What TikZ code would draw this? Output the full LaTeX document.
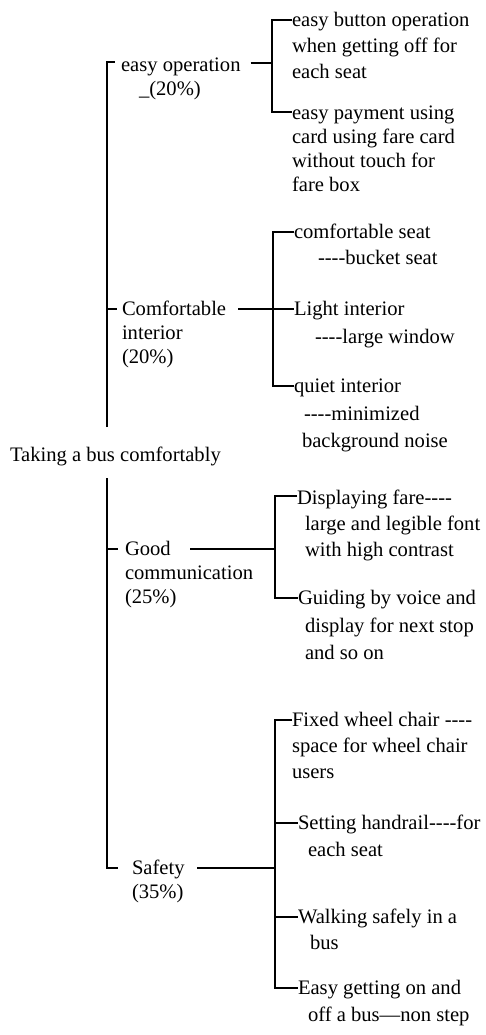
\documentclass[tikz,border=0pt]{standalone}
\usepackage{fontspec}
\setmainfont{Liberation Serif}[Ligatures=TeXOff]
\newcommand{\fs}{\rule{0pt}{16pt}}
\tikzset{
  lbl/.style={anchor=north west, inner sep=0pt, outer sep=0pt, align=left, font=\fontsize{20.6}{26}\selectfont},
  lvl/.style={lbl, font=\fontsize{20.6}{24.2}\selectfont},
  ln/.style={line width=2pt, line cap=butt, line join=miter}
}
\begin{document}
\begin{tikzpicture}[x=1pt,y=-1pt]
\useasboundingbox (0,0) rectangle (485,1035);
% root
\node[lbl] (root) at (10,445.5) {\fs Taking a bus comfortably};
% level 1
\node[lvl] (op) at (121,55.5) {\fs easy operation\\\hspace{18pt}\_(20\%)};
\node[lvl] (ci) at (122,299.5) {\fs Comfortable\\interior\\(20\%)};
\node[lvl] (gc) at (125,539.5) {\fs Good\\communication\\(25\%)};
\node[lvl] (sf) at (132,858.5) {\fs Safety\\(35\%)};
% leaves
\node[lbl] (l1) at (292,10.5) {\fs easy button operation\\when getting off for\\each seat};
\node[lbl,font=\fontsize{20.6}{24}\selectfont] (l2) at (292,103.5) {\fs easy payment using\\card using fare card\\without touch for\\fare box};
\node[lbl] (l3) at (294,222.5) {\fs comfortable seat\\\hspace{24pt}----bucket seat};
\node[lbl,font=\fontsize{20.6}{27.5}\selectfont] (l4) at (294,299.5) {\fs Light interior\\\hspace{21pt}----large window};
\node[lbl,font=\fontsize{20.6}{27.5}\selectfont] (l5) at (294,376.5) {\fs quiet interior\\\hspace{10pt}----minimized\\\hspace{8pt}background noise};
\node[lbl] (l6) at (297,488.5) {\fs Displaying fare----\\\hspace{8pt}large and legible font\\\hspace{8pt}with high contrast};
\node[lbl,font=\fontsize{20.6}{27.5}\selectfont] (l7) at (298,588.5) {\fs Guiding by voice and\\\hspace{7pt}display for next stop\\\hspace{7pt}and so on};
\node[lbl] (l8) at (292,710.5) {\fs Fixed wheel chair ----\\space for wheel chair\\users};
\node[lbl,font=\fontsize{20.6}{27}\selectfont] (l9) at (298,813.5) {\fs Setting handrail----for\\\hspace{10pt}each seat};
\node[lbl] (l10) at (298,907.5) {\fs Walking safely in a\\\hspace{12pt}bus};
\node[lbl,font=\fontsize{20.6}{27}\selectfont] (l11) at (298,978.5) {\fs Easy getting on and\\\hspace{10pt}off a bus—non step};
% main trunk
\coordinate (mt) at (107,62);
\coordinate (mu) at (107,427);
\coordinate (ml) at (107,478);
\coordinate (mb) at (107,868);
\coordinate (mc) at (107,309);
\coordinate (mg) at (107,549);
\draw[ln] (mu) -- (mt) -- ([xshift=-6pt]op.west |- mt);
\draw[ln] (mc) -- ([xshift=-5pt]ci.west |- mc);
\draw[ln] (ml) -- (mb) -- ([xshift=-14pt]sf.west |- mb);
\draw[ln] (mg) -- ([xshift=-7pt]gc.west |- mg);
% easy operation
\coordinate (j1) at (272,63);
\coordinate (b1t) at (272,20);
\coordinate (b1b) at (272,112);
\draw[ln] ([xshift=10pt]op.east |- j1) -- (j1);
\draw[ln] (l1.west |- b1t) -- (b1t) -- (b1b) -- (l2.west |- b1b);
% comfortable interior
\coordinate (j2) at (273,309);
\coordinate (b2t) at (273,232);
\coordinate (b2b) at (273,386);
\draw[ln] ([xshift=12pt]ci.east |- j2) -- (l4.west |- j2);
\draw[ln] (l3.west |- b2t) -- (b2t) -- (b2b) -- (l5.west |- b2b);
% good communication
\coordinate (j3) at (275,549);
\coordinate (b3t) at (275,496);
\coordinate (b3b) at (275,598);
\coordinate (g0) at (190,549);
\draw[ln] (g0) -- (j3);
\draw[ln] (l6.west |- b3t) -- (b3t) -- (b3b) -- (l7.west |- b3b);
% safety
\coordinate (j4) at (275,868);
\coordinate (b4t) at (275,720);
\coordinate (b4b) at (275,988);
\coordinate (b4a) at (275,823);
\coordinate (b4c) at (275,917);
\coordinate (s0) at (197,868);
\draw[ln] (s0) -- (j4);
\draw[ln] (l8.west |- b4t) -- (b4t) -- (b4b) -- (l11.west |- b4b);
\draw[ln] (b4a) -- (l9.west |- b4a);
\draw[ln] (b4c) -- (l10.west |- b4c);
\end{tikzpicture}
\end{document}
